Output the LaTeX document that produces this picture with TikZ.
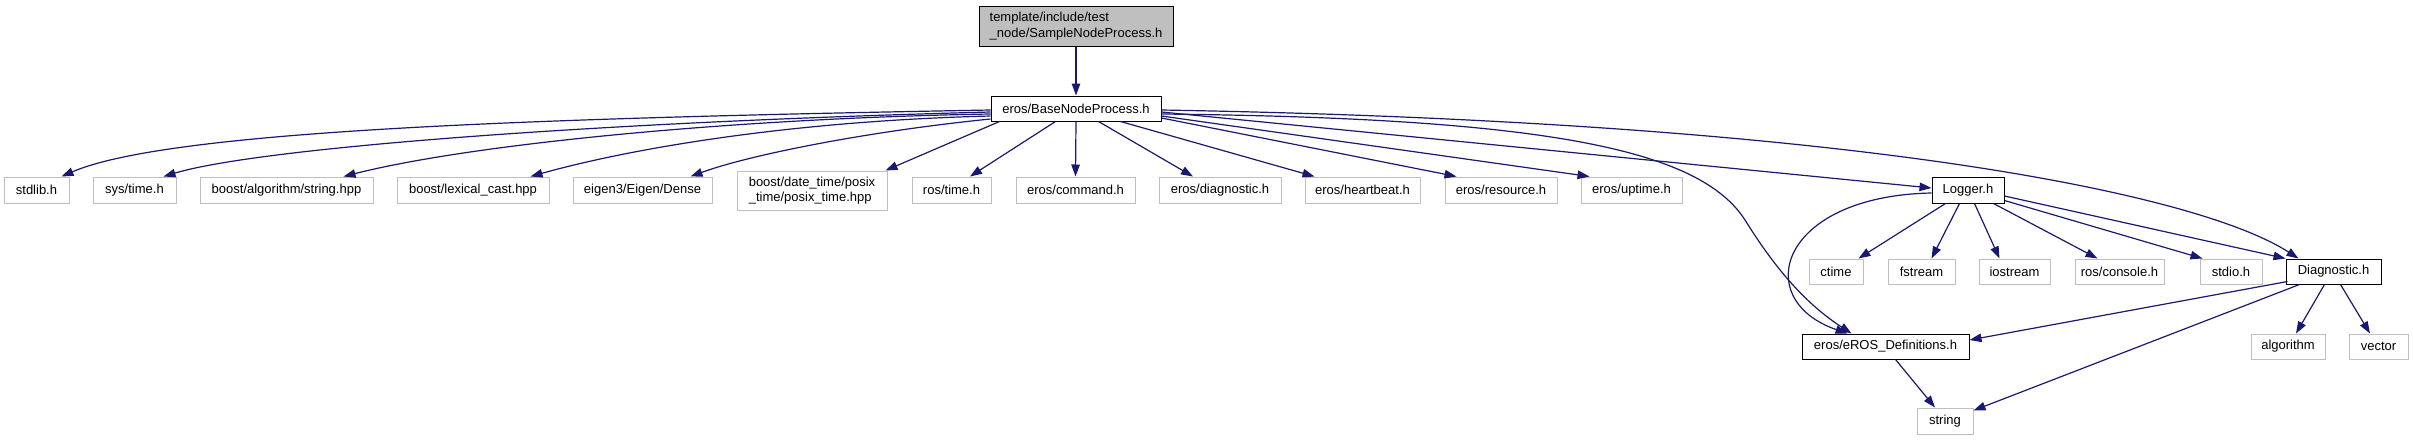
\documentclass[tikz,border=0pt]{standalone}
\usepackage{fontspec}
\setmainfont{Liberation Sans}
\usetikzlibrary{arrows.meta}
\definecolor{edgeblue}{HTML}{191970}
\definecolor{boxgray}{HTML}{BFBFBF}
\newcommand\nodefont{\fontsize{13}{15.5}\selectfont}
\tikzset{
  gbox/.style={draw=boxgray, line width=1pt, fill=white, inner sep=0pt, minimum height=26pt, font=\nodefont},
  bbox/.style={draw=black, line width=1pt, fill=white, inner sep=0pt, minimum height=25pt, font=\nodefont},
  edge/.style={draw=edgeblue, line width=1.2pt, -{Triangle[length=12pt,width=8.5pt]}}
}
\begin{document}
\begin{tikzpicture}[x=1pt,y=-1pt]
\fill[white] (0,0) rectangle (2413,440);
\useasboundingbox (0,0) rectangle (2413,440);
% nodes
\node[bbox, fill=boxgray, minimum width=194pt, minimum height=40pt, align=left] (root) at (1076,26) {template/include/test\\\_node/SampleNodeProcess.h};
\node[bbox, minimum width=170pt] (base) at (1076,108.5) {eros/BaseNodeProcess.h};
\node[gbox, minimum width=65pt] (stdlib) at (36.5,190) {stdlib.h};
\node[gbox, minimum width=83pt] (systime) at (134.5,190) {sys/time.h};
\node[gbox, minimum width=173pt] (boostalg) at (286.5,190) {boost/algorithm/string.hpp};
\node[gbox, minimum width=152pt] (boostlex) at (473,190) {boost/lexical\_cast.hpp};
\node[gbox, minimum width=139pt] (eigen) at (642.5,190) {eigen3/Eigen/Dense};
\node[gbox, minimum width=150pt, minimum height=39pt, align=left] (datetime) at (812,190.5) {boost/date\_time/posix\\\_time/posix\_time.hpp};
\node[gbox, minimum width=79pt] (rostime) at (951.5,190) {ros/time.h};
\node[gbox, minimum width=119pt] (command) at (1075.5,190) {eros/command.h};
\node[gbox, minimum width=122pt] (erosdiag) at (1220,190) {eros/diagnostic.h};
\node[gbox, minimum width=115pt] (heartbeat) at (1362.5,190) {eros/heartbeat.h};
\node[gbox, minimum width=112pt] (resource) at (1501,190) {eros/resource.h};
\node[gbox, minimum width=101pt] (uptime) at (1631.5,190) {eros/uptime.h};
\node[bbox, minimum width=72pt, minimum height=26pt] (logger) at (1968,190) {Logger.h};
\node[gbox, minimum width=54pt, minimum height=25pt] (ctime) at (1836,271.5) {ctime};
\node[gbox, minimum width=67pt, minimum height=25pt] (fstream) at (1921.5,271.5) {fstream};
\node[gbox, minimum width=71pt, minimum height=25pt] (iostream) at (2014.5,271.5) {iostream};
\node[gbox, minimum width=89pt, minimum height=25pt] (console) at (2119.5,271.5) {ros/console.h};
\node[gbox, minimum width=62pt, minimum height=25pt] (stdio) at (2231,271.5) {stdio.h};
\node[bbox, minimum width=95pt] (diag) at (2333.5,271.5) {Diagnostic.h};
\node[bbox, minimum width=167pt] (erosdef) at (1885.5,346.5) {eros/eROS\_Definitions.h};
\node[gbox, minimum width=74pt, minimum height=25pt] (algorithm) at (2288,346.5) {algorithm};
\node[gbox, minimum width=59pt, minimum height=25pt] (vector) at (2378.5,346.5) {vector};
\node[gbox, minimum width=56pt] (string) at (1945,421) {string};
% edges
\draw[edge] (root.south) -- (base.north);
\draw[edge] ([yshift=-1.5pt]base.west) .. controls +(-441,8) and +(109,-47) .. ([xshift=-8pt]stdlib.north east);
\draw[edge] ([yshift=-3.5pt]base.west) .. controls +(-391,10) and +(97,-29) .. ([xshift=-13pt]systime.north east);
\draw[edge] ([yshift=-5.5pt]base.west) .. controls +(-250,4) and +(130,-33) .. ([xshift=-30pt]boostalg.north east);
\draw[edge] ([yshift=-7.5pt]base.west) .. controls +(-200,5) and +(100,-28) .. ([xshift=-19pt]boostlex.north east);
\draw[edge] ([yshift=-10.5pt]base.west) .. controls +(-120,12) and +(60,-22) .. ([xshift=-22pt]eigen.north east);
\draw[edge] ([xshift=9pt]base.south west) -- ([xshift=-2pt]datetime.north east);
\draw[edge] ([xshift=65pt]base.south west) -- ([xshift=18.5pt]rostime.north);
\draw[edge] (base.south) -- (command.north);
\draw[edge] ([xshift=108pt]base.south west) -- ([xshift=-27pt]erosdiag.north);
\draw[edge] ([xshift=130pt]base.south west) -- ([xshift=10pt]heartbeat.north west);
\draw[edge] ([yshift=-9.5pt]base.east) -- ([xshift=12pt]resource.north west);
\draw[edge] ([yshift=-7.5pt]base.east) -- ([xshift=9pt]uptime.north west);
\draw[edge] ([yshift=-3.5pt]base.east) -- ([yshift=2pt]logger.west);
\draw[edge] ([yshift=-1.5pt]base.east) .. controls +(700,12) and +(-99,-64) .. ([xshift=13pt]diag.north west);
\draw[edge] ([yshift=-5.5pt]base.east) .. controls (1550,118) and (1700,150) .. (1745,220) .. controls (1770,260) and (1800,300) .. ([xshift=50pt]erosdef.north west);
% logger
\draw[edge] ([xshift=14pt]logger.south west) -- ([xshift=-5pt]ctime.north east);
\draw[edge] ([xshift=28pt]logger.south west) -- ([xshift=44pt]fstream.north west);
\draw[edge] ([xshift=43pt]logger.south west) -- ([xshift=21pt]iostream.north west);
\draw[edge] ([xshift=62pt]logger.south west) -- ([xshift=23pt]console.north west);
\draw[edge] ([yshift=3pt]logger.south east) -- ([xshift=3pt]stdio.north west);
\draw[edge] ([yshift=-6pt]logger.east) -- (diag.north west);
\draw[edge] ([yshift=-3pt]logger.west) .. controls +(-152,3) and +(-98,-34) .. ([xshift=46pt]erosdef.north west);
% diagnostic
\draw[edge] ([xshift=2pt,yshift=3pt]diag.south west) -- ([yshift=6.5pt]erosdef.east);
\draw[edge] ([xshift=14pt]diag.south west) -- ([yshift=-3pt]string.north east);
\draw[edge] ([xshift=39pt]diag.south west) -- ([xshift=8pt]algorithm.north);
\draw[edge] ([xshift=55pt]diag.south west) -- ([xshift=-8.5pt]vector.north);
\draw[edge] ([xshift=94pt]erosdef.south west) -- ([xshift=-10pt]string.north);
\end{tikzpicture}
\end{document}
